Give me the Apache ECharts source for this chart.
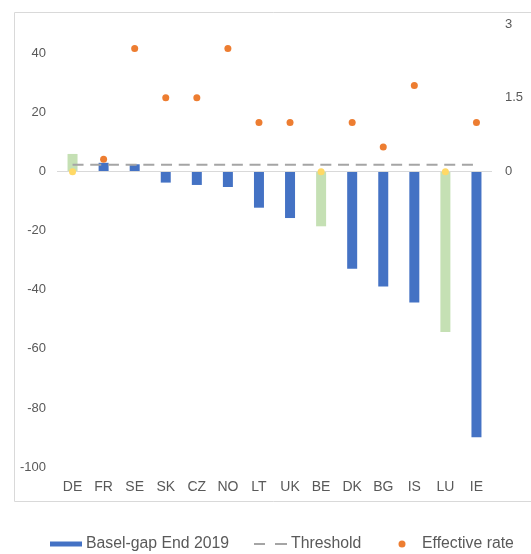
<!DOCTYPE html>
<html>
<head>
<meta charset="utf-8">
<script src="https://cdn.jsdelivr.net/npm/echarts@6/dist/echarts.min.js"></script>
<style>
html,body{margin:0;padding:0;background:#fff;}
#chart{width:531px;height:554px;}
</style>
</head>
<body>
<div id="chart"></div>
<script>
var categories = ['DE','FR','SE','SK','CZ','NO','LT','UK','BE','DK','BG','IS','LU','IE'];
var baselGap = [6, 3, 2.5, -3.7, -4.5, -5.2, -12.2, -15.7, -18.5, -32.9, -38.9, -44.3, -54.3, -89.9];
var greenCountries = ['DE','BE','LU'];
var thresholdValue = 2.3;
var effectiveRate = [0, 0.25, 2.5, 1.5, 1.5, 2.5, 1, 1, 0, 1, 0.5, 1.75, 0, 1];

var BLUE = '#4472C4', GREEN = '#C5E0B4', ORANGE = '#ED7D31', YELLOW = '#FFD966', GREY = '#A5A5A5';
var FONT = "'Liberation Sans', Arial, sans-serif";

var barData = baselGap.map(function(v, i){
  return {value: v, itemStyle: {color: greenCountries.indexOf(categories[i]) >= 0 ? GREEN : BLUE}};
});
var thresholdData = categories.map(function(){ return thresholdValue; });
var rateData = effectiveRate.map(function(v, i){
  return {value: v, itemStyle: {color: greenCountries.indexOf(categories[i]) >= 0 ? YELLOW : ORANGE, opacity: 1}};
});

var chart = echarts.init(document.getElementById('chart'));
chart.setOption({
  animation: false,
  textStyle: {fontFamily: FONT},
  graphic: [{
    type: 'rect', silent: true, z: -10,
    shape: {x: 14.5, y: 12.5, width: 540, height: 489},
    style: {fill: 'none', stroke: '#D9D9D9', lineWidth: 1}
  }],
  grid: {left: 57, right: 39, top: 24, bottom: 87},
  legend: [
    {data: [{name: 'Basel-gap End 2019', icon: 'rect'}], left: 50, top: 536, padding: 0, itemWidth: 32, itemHeight: 5, itemGap: 0,
     textStyle: {fontSize: 15.8, color: '#595959', fontFamily: FONT, padding: [0,0,0,-1]}},
    {data: [{name: 'Threshold', icon: 'path://M0,0h11v2h-11z M21,0h12v2h-12z', itemStyle: {color: GREY}}], left: 254, top: 536, padding: 0, itemWidth: 33, itemHeight: 2, itemGap: 0,
     textStyle: {fontSize: 15.8, color: '#595959', fontFamily: FONT, padding: [0,0,0,-1]}},
    {data: [{name: 'Effective rate', icon: 'circle', itemStyle: {color: ORANGE, opacity: 1}}], left: 398.5, top: 536, padding: 0, itemWidth: 7, itemHeight: 7, itemGap: 0,
     textStyle: {fontSize: 15.8, color: '#595959', fontFamily: FONT, padding: [0,0,0,11.5]}}
  ],
  xAxis: {
    type: 'category', data: categories,
    axisLine: {show: false}, axisTick: {show: false},
    axisLabel: {fontSize: 14, color: '#595959', margin: 13, interval: 0, fontFamily: FONT}
  },
  yAxis: [
    {type: 'value', min: -100, max: 50, interval: 20,
     axisLine: {show: false}, axisTick: {show: false}, splitLine: {show: false},
     axisLabel: {fontSize: 13, color: '#595959', margin: 11, fontFamily: FONT,
       formatter: function(v){ return v > 40 ? '' : String(v); }}},
    {type: 'value', min: -6, max: 3, interval: 1.5, position: 'right',
     axisLine: {show: false}, axisTick: {show: false}, splitLine: {show: false},
     axisLabel: {fontSize: 13, color: '#595959', margin: 13, fontFamily: FONT,
       formatter: function(v){ return v < 0 ? '' : String(v); }}}
  ],
  series: [
    {name: 'Basel-gap End 2019', type: 'bar', data: barData, barWidth: 10, itemStyle: {color: BLUE},
     markLine: {silent: true, symbol: 'none', label: {show: false},
       lineStyle: {color: '#D9D9D9', type: 'solid', width: 1},
       data: [{yAxis: 0}]}},
    {name: 'Threshold', type: 'line', data: thresholdData, showSymbol: false, symbol: 'none',
     itemStyle: {color: GREY},
     lineStyle: {color: GREY, width: 2, type: [11, 6.7]}},
    {name: 'Effective rate', type: 'scatter', yAxisIndex: 1, data: rateData, symbolSize: 7,
     itemStyle: {color: ORANGE, opacity: 1}, z: 5}
  ]
});
</script>
</body>
</html>
